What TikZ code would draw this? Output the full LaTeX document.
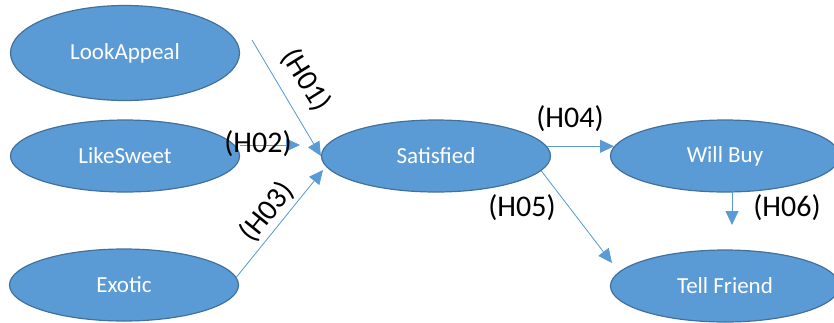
\documentclass[tikz,border=0pt]{standalone}
\usepackage{fontspec}
\setmainfont{Carlito}
\usetikzlibrary{arrows.meta, shapes.geometric}

\definecolor{boxfill}{HTML}{5B9BD5}
\definecolor{boxline}{HTML}{41719C}

\begin{document}
\begin{tikzpicture}[
            x={(1pt,0pt)},
            y={(0pt,-1pt)},
            >={Triangle[length=14pt, width=13pt]},
            construct/.style={ellipse, draw=boxline, line width=1.2pt, fill=boxfill,
                              text=white, font=\fontsize{23}{27}\selectfont,
                              minimum width=229pt, minimum height=72pt, inner sep=0pt},
            link/.style={->, draw=boxfill, fill=boxfill, line width=0.8pt},
            hyp/.style={font=\fontsize{30}{34}\selectfont, text=black, inner sep=0pt}
        ]

            % --- Canvas ---
            \useasboundingbox (0,0) rectangle (834,322);

            % --- Constructs ---
            \node[construct, minimum height=95pt] (look) at (125,53)  {LookAppeal};
            \node[construct] (like) at (125,156) {LikeSweet};
            \node[construct] (exo)  at (124,285) {Exotic};
            \node[construct] (sat)  at (436,156) {Satisfied};
            \node[construct] (wb)   at (725,156) {Will Buy};
            \node[construct] (tf)   at (725,286) {Tell Friend};

            % --- Free arrow ends ---
            \coordinate (h1s) at (252,40);
            \coordinate (h2s) at (240,145);
            \coordinate (h2e) at (300,145);
            \coordinate (h3e) at (323,170);
            \coordinate (h5e) at (612,263);
            \coordinate (h6s) at (732,191);
            \coordinate (h6e) at (732,225);

            % --- Paths ---
            \draw[link] (h1s) -- (sat.west);
            \draw[link] (h2s) -- (h2e);
            \draw[link] (exo.4) -- (h3e);
            \draw[link] (sat.5) -- (wb.175);
            \draw[link] (sat.-8) -- (h5e);
            \draw[link] (h6s) -- (h6e);

            % --- Hypothesis labels ---
            \node[hyp, rotate=-58] (l1) at (306,80)  {(H01)};
            \node[hyp]             (l2) at (258,144) {(H02)};
            \node[hyp, rotate=51]  (l3) at (267,212) {(H03)};
            \node[hyp]             (l4) at (570,119) {(H04)};
            \node[hyp]             (l5) at (522,208) {(H05)};
            \node[hyp]             (l6) at (787,208) {(H06)};

\end{tikzpicture}
\end{document}
